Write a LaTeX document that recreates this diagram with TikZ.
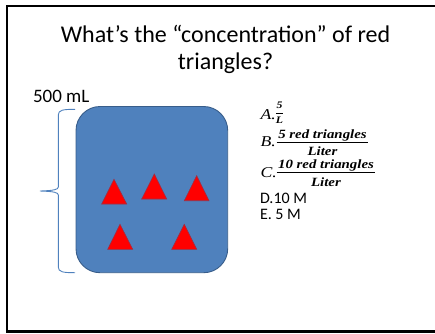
\documentclass[tikz,border=0pt]{standalone}
\usepackage{fontspec}
\setmainfont{Carlito}
\newfontfamily\fracfnt[FakeStretch=1.18]{Liberation Serif}
\definecolor{boxblue}{HTML}{4F81BD}
\definecolor{boxedge}{HTML}{385D8A}
\begin{document}
\begin{tikzpicture}[x=1pt,y=-1pt,
  lbl/.style={inner sep=0pt, outer sep=0pt},
  titlefont/.style={font=\fontsize{24}{27}\selectfont},
  letterfont/.style={font=\fracfnt\itshape\fontsize{15}{15}\selectfont},
  fracfont/.style={font=\fracfnt\bfseries\itshape\fontsize{12.6}{12.6}\selectfont},
  numer/.style={fracfont, text height=0.7em},
  denom/.style={fracfont, text depth=0pt},
  smallfrac/.style={font=\fracfnt\bfseries\itshape\fontsize{10}{10}\selectfont},
  answerfont/.style={font=\fontsize{16}{16}\selectfont},
  tri/.style={fill=red, draw=boxedge!50!red, line width=0.6pt, line join=miter},
  fracbar/.style={line width=1.2pt}]
\useasboundingbox (0,0) rectangle (435,333);
\clip (0,0) rectangle (435,333);
% slide frame
\draw[line width=2.2pt] (7,6) rectangle (445,331.5);
% title
\node[lbl, titlefont, anchor=base] (title1) at (225.5,42) {What’s the “concentration” of red};
\node[lbl, titlefont, anchor=base] (title2) at (225.5,69) {triangles?};
% volume label
\node[lbl, anchor=base west, font=\fontsize{19}{19}\selectfont] (vol) at (33,102.7) {500 mL};
% brace
\draw[boxblue, line width=0.9pt] (75,109.3) .. controls (63,109.3) and (58.3,110) .. (58.3,115)
  -- (58.3,187) .. controls (58.3,189.5) and (54,190.6) .. (40,191)
  .. controls (54,191.4) and (58.3,192.5) .. (58.3,195)
  -- (58.3,267) .. controls (58.3,272) and (63,272.7) .. (75,272.7);
% container
\draw[fill=boxblue, draw=boxedge, line width=0.9pt, rounded corners=24pt] (76,106.5) rectangle (227.7,272.7);
% triangles
\draw[tri] (114,179.3) -- (126.7,204) -- (101.7,204) -- cycle;
\draw[tri] (154.3,174) -- (166.7,199) -- (141.7,199) -- cycle;
\draw[tri] (196.7,175.7) -- (209,200.7) -- (184.3,200.7) -- cycle;
\draw[tri] (120,224.3) -- (132.7,249.3) -- (107.7,249.3) -- cycle;
\draw[tri] (184.3,224.3) -- (196.7,249.3) -- (171.7,249.3) -- cycle;
% option A
\node[lbl, letterfont, anchor=base west] (la) at (260.5,119.5) {A.};
\node[lbl, smallfrac, anchor=base] (na) at (279.5,108.3) {5};
\draw[fracbar] (276,113.8) -- (283,113.8);
\node[lbl, smallfrac, anchor=base] (da) at (279.5,123.3) {L};
% option B
\node[lbl, letterfont, anchor=base west] (lb) at (260.5,146.7) {B.};
\node[lbl, numer, anchor=base] (nb) at (322.5,138.5) {5 red triangles};
\draw[fracbar] (276.7,142.3) -- (368.3,142.3);
\node[lbl, denom, anchor=base] (db) at (322.5,155.8) {Liter};
% option C
\node[lbl, letterfont, anchor=base west] (lc) at (260.5,177) {C.};
\node[lbl, numer, anchor=base] (nc) at (326,168.2) {10 red triangles};
\draw[fracbar] (276.7,172.5) -- (375,172.5);
\node[lbl, denom, anchor=base] (dc) at (326,186) {Liter};
% options D, E
\node[lbl, answerfont, anchor=base west] (ld) at (260,203.5) {D.10 M};
\node[lbl, answerfont, anchor=base west] (le) at (260,219) {E.\ 5 M};
\end{tikzpicture}
\end{document}
